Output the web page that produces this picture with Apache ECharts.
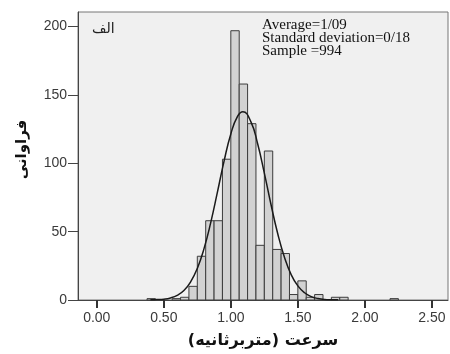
<!DOCTYPE html>
<html>
<head>
<meta charset="utf-8">
<script src="https://cdn.jsdelivr.net/npm/echarts@6/dist/echarts.min.js"></script>
<style>
  html, body { margin: 0; padding: 0; background: #fff; }
  #chart { width: 450px; height: 354px; }
</style>
</head>
<body>
<div id="chart"></div>
<script>
// histogram bins (start of each bin) and frequencies
const binWidth = 0.0625;
const binStarts = [0.375, 0.5625, 0.625, 0.6875, 0.75, 0.8125, 0.875, 0.9375, 1.0, 1.0625,
  1.125, 1.1875, 1.25, 1.3125, 1.375, 1.4375, 1.5, 1.5625, 1.625, 1.75, 1.8125, 2.1875];
const counts = [1, 1, 2, 10, 32, 58, 58, 103, 197, 158,
  129, 40, 109, 37, 34, 4, 14, 2, 4, 2, 2, 1];

// normal curve
const curveX = [0.40, 0.45, 0.50, 0.55, 0.60, 0.65, 0.70, 0.75, 0.80, 0.85, 0.90, 0.95, 1.00,
  1.05, 1.09, 1.15, 1.20, 1.25, 1.30, 1.35, 1.40, 1.45, 1.50, 1.55, 1.60, 1.65, 1.70, 1.75, 1.80];
const curveY = [0.1, 0.3, 0.6, 1.5, 3.4, 6.9, 13.2, 23.1, 37.6, 56.6, 78.9, 101.8, 121.5,
  134.3, 137.7, 130.3, 114.3, 92.8, 69.7, 48.5, 31.3, 18.6, 10.3, 5.3, 2.5, 1.1, 0.4, 0.2, 0.1];

const xTicks = [0, 0.5, 1, 1.5, 2, 2.5];
const yTicks = [0, 50, 100, 150, 200];
const statsLines = ["Average=1/09", "Standard deviation=0/18", "Sample =994"];
const panelLabel = "الف";
const xName = "سرعت (متربرثانیه)";
const yName = "فراوانی";

const chart = echarts.init(document.getElementById("chart"));

const barData = binStarts.map((s, i) => [s, s + binWidth, counts[i]]);
const curveData = curveX.map((x, i) => [x, curveY[i]]);

const option = {
  animation: false,
  grid: {
    left: 78,
    right: 2,
    top: 12,
    bottom: 53,
    show: true,
    backgroundColor: "#f0f0f0",
    borderColor: "#777",
    borderWidth: 1,
  },
  xAxis: {
    type: "value",
    min: -0.14,
    max: 2.62,
    splitLine: { show: false },
    axisLine: { show: true, onZero: false, lineStyle: { color: "#444" } },
    axisTick: { show: true, length: 8, customValues: xTicks, lineStyle: { color: "#333", width: 2 } },
    axisLabel: {
      customValues: xTicks,
      margin: 11,
      color: "#3a3a3a",
      fontFamily: "Liberation Sans",
      fontSize: 14,
      formatter: (v) => v.toFixed(2),
    },
    name: xName,
    nameLocation: "middle",
    nameGap: 33,
    nameTextStyle: { fontFamily: "DejaVu Sans", fontWeight: "bold", fontSize: 16, color: "#111" },
  },
  yAxis: {
    type: "value",
    min: 0,
    max: 210.7,
    splitLine: { show: false },
    axisLine: { show: true, onZero: false, lineStyle: { color: "#444" } },
    axisTick: { show: true, length: 10, customValues: yTicks, lineStyle: { color: "#444" } },
    axisLabel: {
      customValues: yTicks,
      margin: 11,
      color: "#3a3a3a",
      fontFamily: "Liberation Sans",
      fontSize: 14,
    },
    name: yName,
    nameLocation: "middle",
    nameGap: 48,
    nameTextStyle: { fontFamily: "DejaVu Sans", fontWeight: "bold", fontSize: 15, color: "#111", padding: [0, 0, 0, 13] },
  },
  graphic: [
    {
      type: "text",
      left: 92,
      top: 22,
      style: { text: panelLabel, font: "14px 'DejaVu Sans'", fill: "#222" },
    },
    {
      type: "text",
      left: 262,
      top: 18,
      style: {
        text: statsLines.join("\n"),
        font: "15px 'Liberation Serif'",
        lineHeight: 12.7,
        fill: "#111",
      },
    },
  ],
  series: [
    {
      type: "custom",
      data: barData,
      encode: { x: [0, 1], y: 2 },
      renderItem: (params, api) => {
        const p0 = api.coord([api.value(0), 0]);
        const p1 = api.coord([api.value(1), api.value(2)]);
        return {
          type: "rect",
          shape: { x: p0[0], y: p1[1], width: p1[0] - p0[0], height: p0[1] - p1[1] },
          style: { fill: "#d2d2d2", stroke: "#3c3c3c", lineWidth: 1 },
        };
      },
    },
    {
      type: "line",
      data: curveData,
      smooth: true,
      showSymbol: false,
      lineStyle: { color: "#1a1a1a", width: 1.5 },
      z: 3,
    },
  ],
};

chart.setOption(option);
</script>
</body>
</html>
